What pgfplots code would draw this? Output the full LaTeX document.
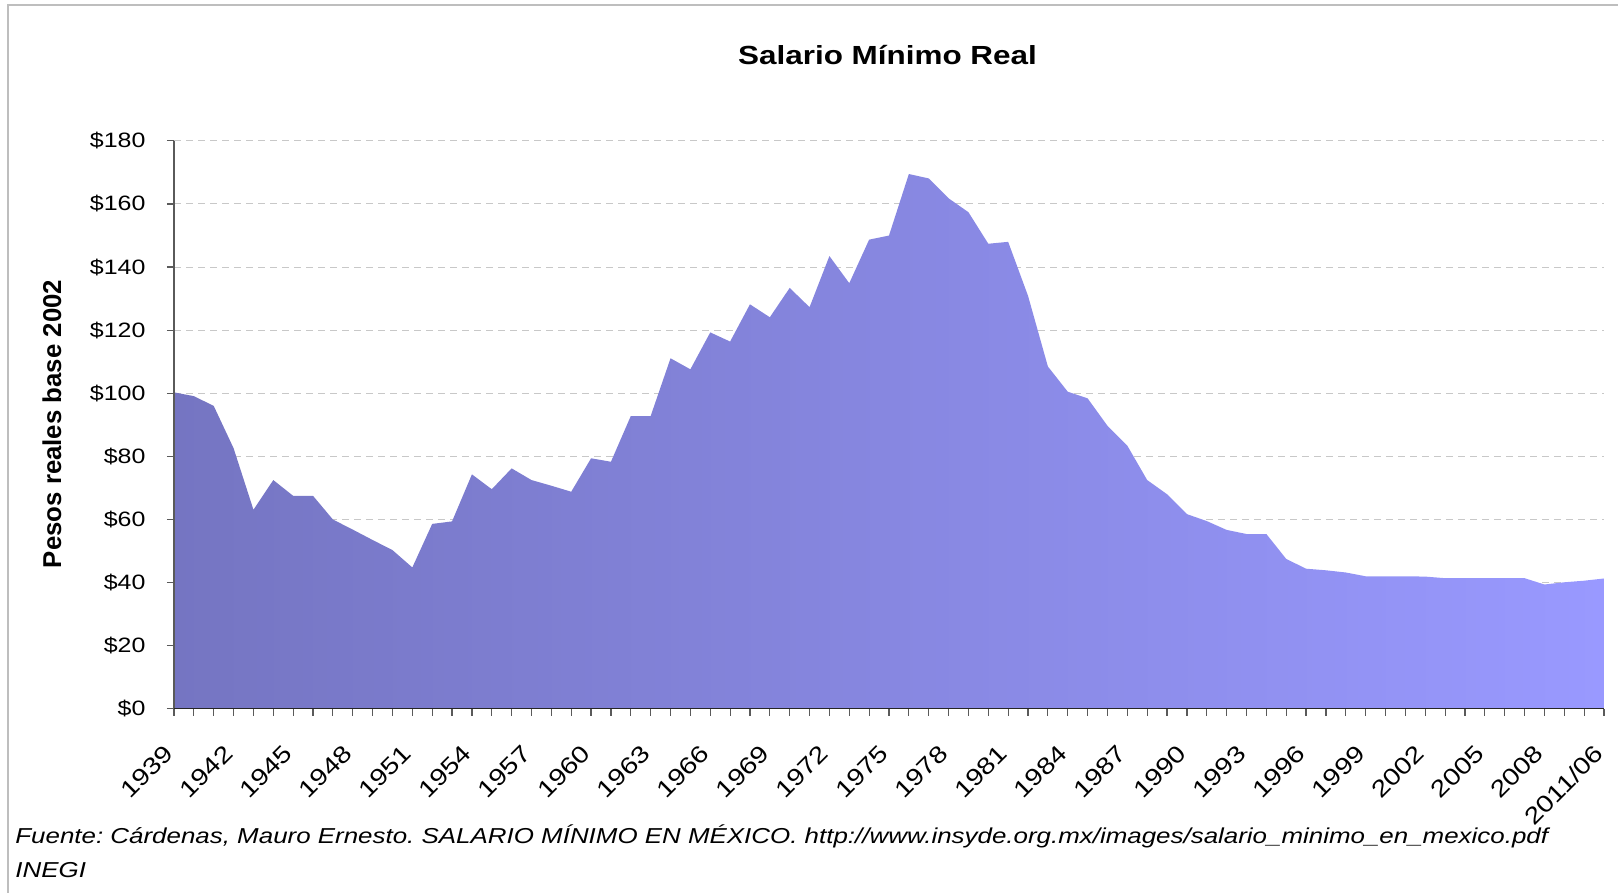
\documentclass[border=0pt]{standalone}
\usepackage{fontspec}
\setmainfont[FakeStretch=1.2]{Liberation Sans}
\newfontfamily\ylabfont{Liberation Sans}
\usepackage{pgfplots}
\pgfplotsset{compat=1.18}
\usepackage{pgfplotstable}
\definecolor{areaL}{RGB}{117,117,194}
\definecolor{areaR}{RGB}{153,153,255}
\definecolor{gridc}{RGB}{200,200,200}
\definecolor{borderc}{RGB}{190,190,190}
\definecolor{axisc}{RGB}{90,90,90}
\frenchspacing

\pgfplotstableread{
x y
0 100.3
1 99.1
2 96.0
3 82.6
4 63.1
5 72.5
6 67.5
7 67.5
8 60.0
9 56.8
10 53.5
11 50.3
12 44.8
13 58.6
14 59.4
15 74.3
16 69.6
17 76.2
18 72.5
19 70.7
20 68.8
21 79.4
22 78.3
23 92.8
24 92.8
25 111.1
26 107.6
27 119.3
28 116.4
29 128.2
30 124.1
31 133.4
32 127.3
33 143.5
34 134.9
35 148.7
36 150.0
37 169.5
38 168.1
39 161.8
40 157.4
41 147.4
42 148.0
43 130.9
44 108.5
45 100.5
46 98.4
47 89.7
48 83.4
49 72.5
50 68.0
51 61.7
52 59.5
53 56.7
54 55.4
55 55.4
56 47.5
57 44.4
58 43.9
59 43.2
60 42.0
61 42.0
62 42.0
63 41.9
64 41.4
65 41.4
66 41.4
67 41.4
68 41.4
69 39.4
70 40.1
71 40.6
72 41.3
}\salario

\begin{document}
\begin{tikzpicture}[x=1pt,y=1pt]
\path[use as bounding box] (0,0) rectangle (809,446.5);
\draw[borderc, line width=1pt] (4,0) -- (4,444) -- (809,444);
\begin{axis}[
  at={(87pt,92.1pt)}, anchor=south west,
  scale only axis, width=715pt, height=283.95pt,
  xmin=0, xmax=72, ymin=0, ymax=180,
  axis x line*=bottom, axis y line*=left,
  axis line style={-, draw=axisc, line width=0.6pt},
  xtick={0,3,...,72},
  xticklabels={1939,1942,1945,1948,1951,1954,1957,1960,1963,1966,1969,1972,1975,1978,1981,1984,1987,1990,1993,1996,1999,2002,2005,2008,2011/06},
  minor x tick num=2,
  ytick={0,20,...,180},
  yticklabels={\$0,\$20,\$40,\$60,\$80,\$100,\$120,\$140,\$160,\$180},
  tick align=outside, major tick length=3.6pt, minor tick length=3.6pt,
  every tick/.style={axisc, line width=0.6pt},
  ymajorgrids, grid style={gridc, dash pattern=on 3.7pt off 2.3pt, line width=0.5pt},
  tick label style={font=\fontsize{10.4}{12}\selectfont, text=black},
  yticklabel style={inner sep=0pt, anchor=east, xshift=-10.5pt},
  xticklabel style={font=\fontsize{11.8}{13}\selectfont, xshift=-5.5pt, yshift=-13.4pt, inner sep=0pt, rotate=45, anchor=north east},
  clip=false,
]
\addplot[draw=none, left color=areaL, right color=areaR] table[x=x,y=y] {\salario} \closedcycle;
\draw[axisc, line width=0.6pt] (axis cs:0,0) -- (axis cs:0,180);
\draw[black!85, line width=0.7pt] (axis cs:0,0) -- (axis cs:72,0);
\end{axis}
\node[anchor=base, font=\bfseries\fontsize{13.1}{15}\selectfont] at (443.75,414.2) {Salario Mínimo Real};
\node[rotate=90, anchor=center, font=\ylabfont\bfseries\fontsize{12.9}{15}\selectfont] at (26,234.5) {Pesos reales base 2002};
\node[anchor=base west, inner sep=0pt, font=\itshape\fontsize{10.8}{13}\selectfont] at (7.5,24.6) {Fuente: Cárdenas, Mauro Ernesto. SALARIO MÍNIMO EN MÉXICO. http://www.insyde.org.mx/images/salario\_minimo\_en\_mexico.pdf};
\node[anchor=base west, inner sep=0pt, font=\itshape\fontsize{10.8}{13}\selectfont] at (7.5,7.6) {INEGI};
\end{tikzpicture}
\end{document}
